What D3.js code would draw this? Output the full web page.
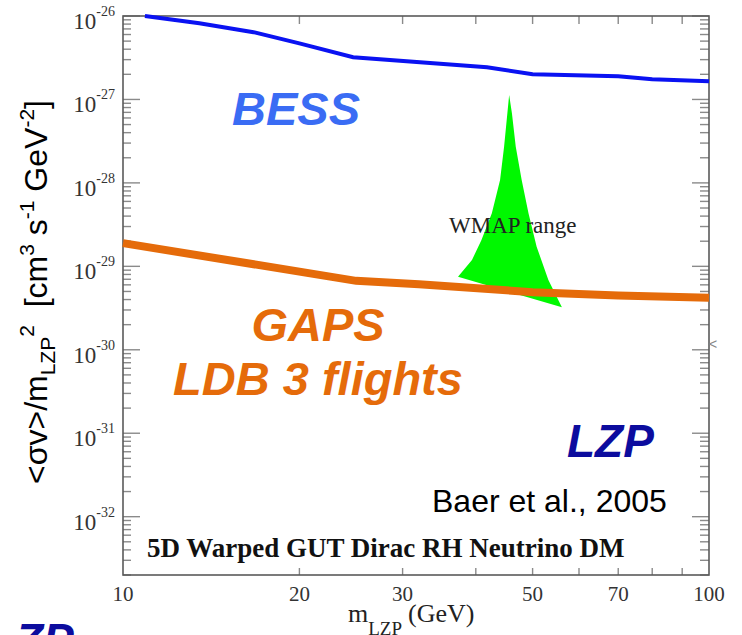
<!DOCTYPE html>
<html><head><meta charset="utf-8">
<script src="https://cdn.jsdelivr.net/npm/d3@7"></script>
<style>body{margin:0;background:#fff}svg{display:block}</style>
</head><body>
<svg id="c" width="742" height="635"></svg>
<script>
// ---- data ----
const xDomain = [10, 100];
const yDomain = [2e-33, 1e-26];
const xTickLabels = [10, 20, 30, 50, 70, 100];
const xMinorTicks = [20, 30, 40, 50, 60, 70, 80, 90];
const yDecades = [-32, -31, -30, -29, -28, -27, -26];

// BESS limit (blue)
const bessMass = [10.9, 13.5, 16.7, 20, 24.7, 41.8, 50, 70, 80, 100];
const bessSigma = [1.0e-26, 8.2e-27, 6.4e-27, 4.7e-27, 3.2e-27, 2.43e-27, 2.0e-27, 1.9e-27, 1.75e-27, 1.65e-27];

// GAPS LDB 3 flights (orange)
const gapsMass = [10, 25, 32, 50, 70, 100];
const gapsSigma = [1.9e-29, 6.7e-30, 6.1e-30, 4.9e-30, 4.48e-30, 4.2e-30];

// WMAP range (green region) outline
const wmapMass = [45.6, 44.7, 44.0, 42.6, 40.9, 39.4, 37.3, 56.1, 53.2, 50.8, 49.2, 47.9, 46.8, 46.1];
const wmapSigma = [1.13e-27, 2.72e-28, 1.08e-28, 4.32e-29, 2.07e-29, 1.19e-29, 7.52e-30,
                   3.23e-30, 6.86e-30, 1.72e-29, 4.32e-29, 1.08e-28, 2.72e-28, 6.83e-28];

// ---- drawing ----
const svg = d3.select("#c");
const x = d3.scaleLog().domain(xDomain).range([123, 709]);
const y = d3.scaleLog().domain(yDomain).range([575, 16]);
const serif = "'Liberation Serif','Times New Roman',serif";
const sans = "'Liberation Sans',Arial,sans-serif";

// WMAP region
const wmapPts = wmapMass.map((m, i) => [m, wmapSigma[i]]);
svg.append("path")
  .attr("d", d3.line().x(d => x(d[0])).y(d => y(d[1]))(wmapPts) + "Z")
  .attr("fill", "#00f800").attr("stroke", "none");

// frame
const x0 = x(xDomain[0]), x1 = x(xDomain[1]), yT = y(yDomain[1]), yB = y(yDomain[0]);

// ticks
const tickCol = "#8a8a8a";
const gT = svg.append("g").attr("stroke", tickCol).attr("stroke-width", 1.4);
xMinorTicks.forEach(v => {
  gT.append("line").attr("x1", x(v)).attr("x2", x(v)).attr("y1", yB).attr("y2", yB - 7);
  gT.append("line").attr("x1", x(v)).attr("x2", x(v)).attr("y1", yT).attr("y2", yT + 8);
});
yDecades.forEach(n => {
  const yy = y(Math.pow(10, n));
  gT.append("line").attr("x1", x0).attr("x2", x0 + 17).attr("y1", yy).attr("y2", yy);
  gT.append("line").attr("x1", x1).attr("x2", x1 - 17).attr("y1", yy).attr("y2", yy);
});
for (let n = -33; n <= -27; n++) {
  for (let k = 2; k <= 9; k++) {
    const v = k * Math.pow(10, n);
    if (v < yDomain[0] || v > yDomain[1]) continue;
    const yy = y(v);
    gT.append("line").attr("x1", x0).attr("x2", x0 + 8).attr("y1", yy).attr("y2", yy);
    gT.append("line").attr("x1", x1).attr("x2", x1 - 9).attr("y1", yy).attr("y2", yy);
  }
}

svg.append("rect").attr("x", x0).attr("y", yT).attr("width", x1 - x0).attr("height", yB - yT)
  .attr("fill", "none").attr("stroke", "#5a5a5a").attr("stroke-width", 1.6);

// lines
svg.append("path")
  .datum(bessMass.map((m, i) => [m, bessSigma[i]]))
  .attr("d", d3.line().x(d => x(d[0])).y(d => y(d[1])))
  .attr("fill", "none").attr("stroke", "#0a12f2").attr("stroke-width", 4);

svg.append("path")
  .datum(gapsMass.map((m, i) => [m, gapsSigma[i]]))
  .attr("d", d3.line().x(d => x(d[0])).y(d => y(d[1])))
  .attr("fill", "none").attr("stroke", "#e56b0a").attr("stroke-width", 8);

// tick labels
xTickLabels.forEach(v => {
  svg.append("text").attr("x", x(v)).attr("y", 601).attr("text-anchor", "middle")
    .attr("font-family", serif).attr("font-size", 21).attr("fill", "#333").text(v);
});
yDecades.forEach(n => {
  const yy = y(Math.pow(10, n));
  const t = svg.append("text").attr("x", 115).attr("y", yy + 13).attr("text-anchor", "end")
    .attr("font-family", serif).attr("fill", "#333");
  t.append("tspan").attr("font-size", 23).text("10");
  t.append("tspan").attr("font-size", 14).attr("dy", -13).text(String(n));
});

// axis titles
const xt = svg.append("text").attr("x", 348).attr("y", 622).attr("font-family", serif).attr("fill", "#222");
xt.append("tspan").attr("font-size", 26).text("m");
xt.append("tspan").attr("font-size", 19).attr("dy", 13).text("LZP");
xt.append("tspan").attr("font-size", 26).attr("dy", -13).attr("dx", 6).text("(GeV)");

const yt = svg.append("text").attr("transform", "translate(47,292) rotate(-90)")
  .attr("text-anchor", "middle").attr("font-family", sans).attr("font-size", 32).attr("fill", "#000");
yt.append("tspan").text("<σv>/m");
yt.append("tspan").attr("font-size", 21).attr("dy", 8).text("LZP");
yt.append("tspan").attr("font-size", 21).attr("dy", -21).text("2");
yt.append("tspan").attr("dy", 13).text("\u00a0\u00a0[cm");
yt.append("tspan").attr("font-size", 21).attr("dy", -13).text("3");
yt.append("tspan").attr("dy", 13).text("\u00a0s");
yt.append("tspan").attr("font-size", 21).attr("dy", -13).text("-1");
yt.append("tspan").attr("dy", 13).text("\u00a0GeV");
yt.append("tspan").attr("font-size", 21).attr("dy", -13).text("-2");
yt.append("tspan").attr("dy", 13).text("]");

// annotations
svg.append("text").attr("x", 449).attr("y", 233).attr("font-family", serif).attr("font-size", 23)
  .attr("fill", "#222").text("WMAP range");
svg.append("text").attr("x", 147).attr("y", 557).attr("font-family", serif).attr("font-size", 27)
  .attr("font-weight", "bold").attr("fill", "#111").text("5D Warped GUT Dirac RH Neutrino DM");

const bi = (txt, xx, yy, col, size, anchor) => svg.append("text").attr("x", xx).attr("y", yy)
  .attr("font-family", sans).attr("font-size", size).attr("font-weight", "bold").attr("font-style", "italic")
  .attr("fill", col).attr("text-anchor", anchor || "start").text(txt);
bi("BESS", 232, 125, "#3a6cf4", 47);
bi("GAPS", 318, 341, "#e56b0a", 47, "middle");
bi("LDB 3 flights", 318, 395, "#e56b0a", 47, "middle");
bi("LZP", 567, 457, "#0c0c9e", 46);
bi("ZP", 15, 656, "#0c0c9e", 46);

svg.append("text").attr("x", 432).attr("y", 512).attr("font-family", sans).attr("font-size", 32)
  .attr("fill", "#000").text("Baer et al., 2005");

svg.append("text").attr("x", 709).attr("y", 349).attr("font-family", sans).attr("font-size", 14)
  .attr("fill", "#888").text("<");
</script>
</body></html>
